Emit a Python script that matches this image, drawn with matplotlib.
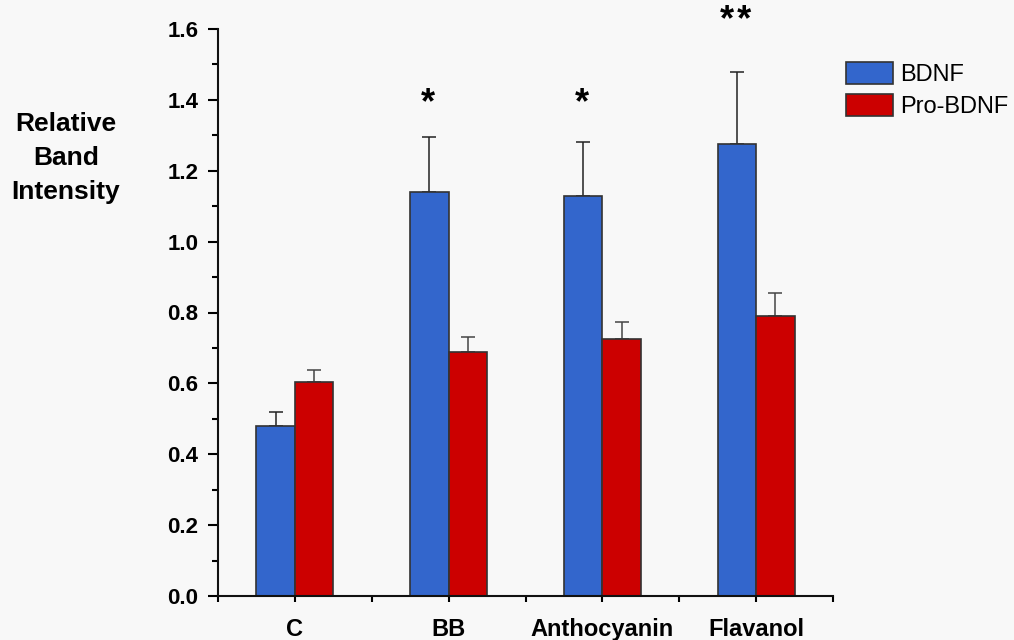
import matplotlib
matplotlib.use("Agg")
import matplotlib.pyplot as plt
import numpy as np

categories = ["C", "BB", "Anthocyanin", "Flavanol"]
bdnf = [0.48, 1.14, 1.13, 1.275]
bdnf_err = [0.04, 0.155, 0.15, 0.205]
pro_bdnf = [0.605, 0.688, 0.725, 0.79]
pro_bdnf_err = [0.033, 0.044, 0.047, 0.065]
stars = ["", "*", "*", "*\u200a*"]
star_y = [0, 1.39, 1.39, 1.62]

plt.rcParams['font.family'] = ['Liberation Sans', 'DejaVu Sans']

fig = plt.figure(figsize=(10.14, 6.4), dpi=100)
fig.patch.set_facecolor('#f8f8f8')
ax = fig.add_axes([218/1014, 1-596/640, (833-218)/1014, (596-29)/640])
ax.set_facecolor('#f8f8f8')

x = np.arange(len(categories))
w = 0.25
blue = '#3366cc'
red = '#cc0000'
ax.bar(x - w/2, bdnf, w, color=blue, edgecolor='#333333', linewidth=1.2,
       label='BDNF', zorder=2)
ax.bar(x + w/2, pro_bdnf, w, color=red, edgecolor='#333333', linewidth=1.2,
       label='Pro-BDNF', zorder=2)
ax.errorbar(x - w/2, bdnf, yerr=[np.zeros(len(bdnf)), bdnf_err], fmt='none',
            ecolor='#222222', elinewidth=1.1, capsize=5, capthick=1.1, zorder=1)
ax.errorbar(x + w/2, pro_bdnf, yerr=[np.zeros(len(pro_bdnf)), pro_bdnf_err], fmt='none',
            ecolor='#444444', elinewidth=1.1, capsize=5, capthick=1.1, zorder=1)

for i, s in enumerate(stars):
    if s:
        ax.text(x[i] - w/2 - 0.01, star_y[i], s, ha='center', va='center',
                fontsize=26, fontweight='bold', clip_on=False,
                fontfamily=['Liberation Sans', 'DejaVu Sans'])

ax.set_xlim(-0.5, 3.5)
ax.set_ylim(0, 1.6)
ax.set_xticks(x)
ax.set_xticklabels(categories, fontsize=17, fontweight='bold')
ax.set_xticks(np.arange(-0.5, 4.0, 1.0), minor=True)
ax.set_yticks(np.arange(0, 1.61, 0.2))
ax.set_yticklabels([f"{v:.1f}" for v in np.arange(0, 1.61, 0.2)],
                   fontsize=16, fontweight='bold')
ax.set_yticks(np.arange(0.1, 1.6, 0.2), minor=True)

for s in ['top', 'right']:
    ax.spines[s].set_visible(False)
for s in ['left', 'bottom']:
    ax.spines[s].set_linewidth(1.5)
    ax.spines[s].set_color('#111111')

ax.tick_params(axis='y', which='major', direction='out', length=7, width=1.5, pad=7)
ax.tick_params(axis='y', which='minor', direction='out', length=4, width=1.5)
ax.tick_params(axis='x', which='both', direction='out', length=4, width=1.5, pad=12)

fig.text(66/1014, 1-158/640, "Relative\nBand\nIntensity", ha='center', va='center',
         fontsize=19, fontweight='bold', linespacing=1.55)

leg = fig.legend(loc='upper left', bbox_to_anchor=(846/1014, 1-62/640),
                 frameon=False, fontsize=17, handlelength=2.0, handleheight=1.05,
                 handletextpad=0.3, labelspacing=0.35, borderpad=0, borderaxespad=0)
for p in leg.get_patches():
    p.set_edgecolor('#333333')
    p.set_linewidth(1.2)

fig.savefig('out.png', dpi=100, facecolor=fig.get_facecolor())
